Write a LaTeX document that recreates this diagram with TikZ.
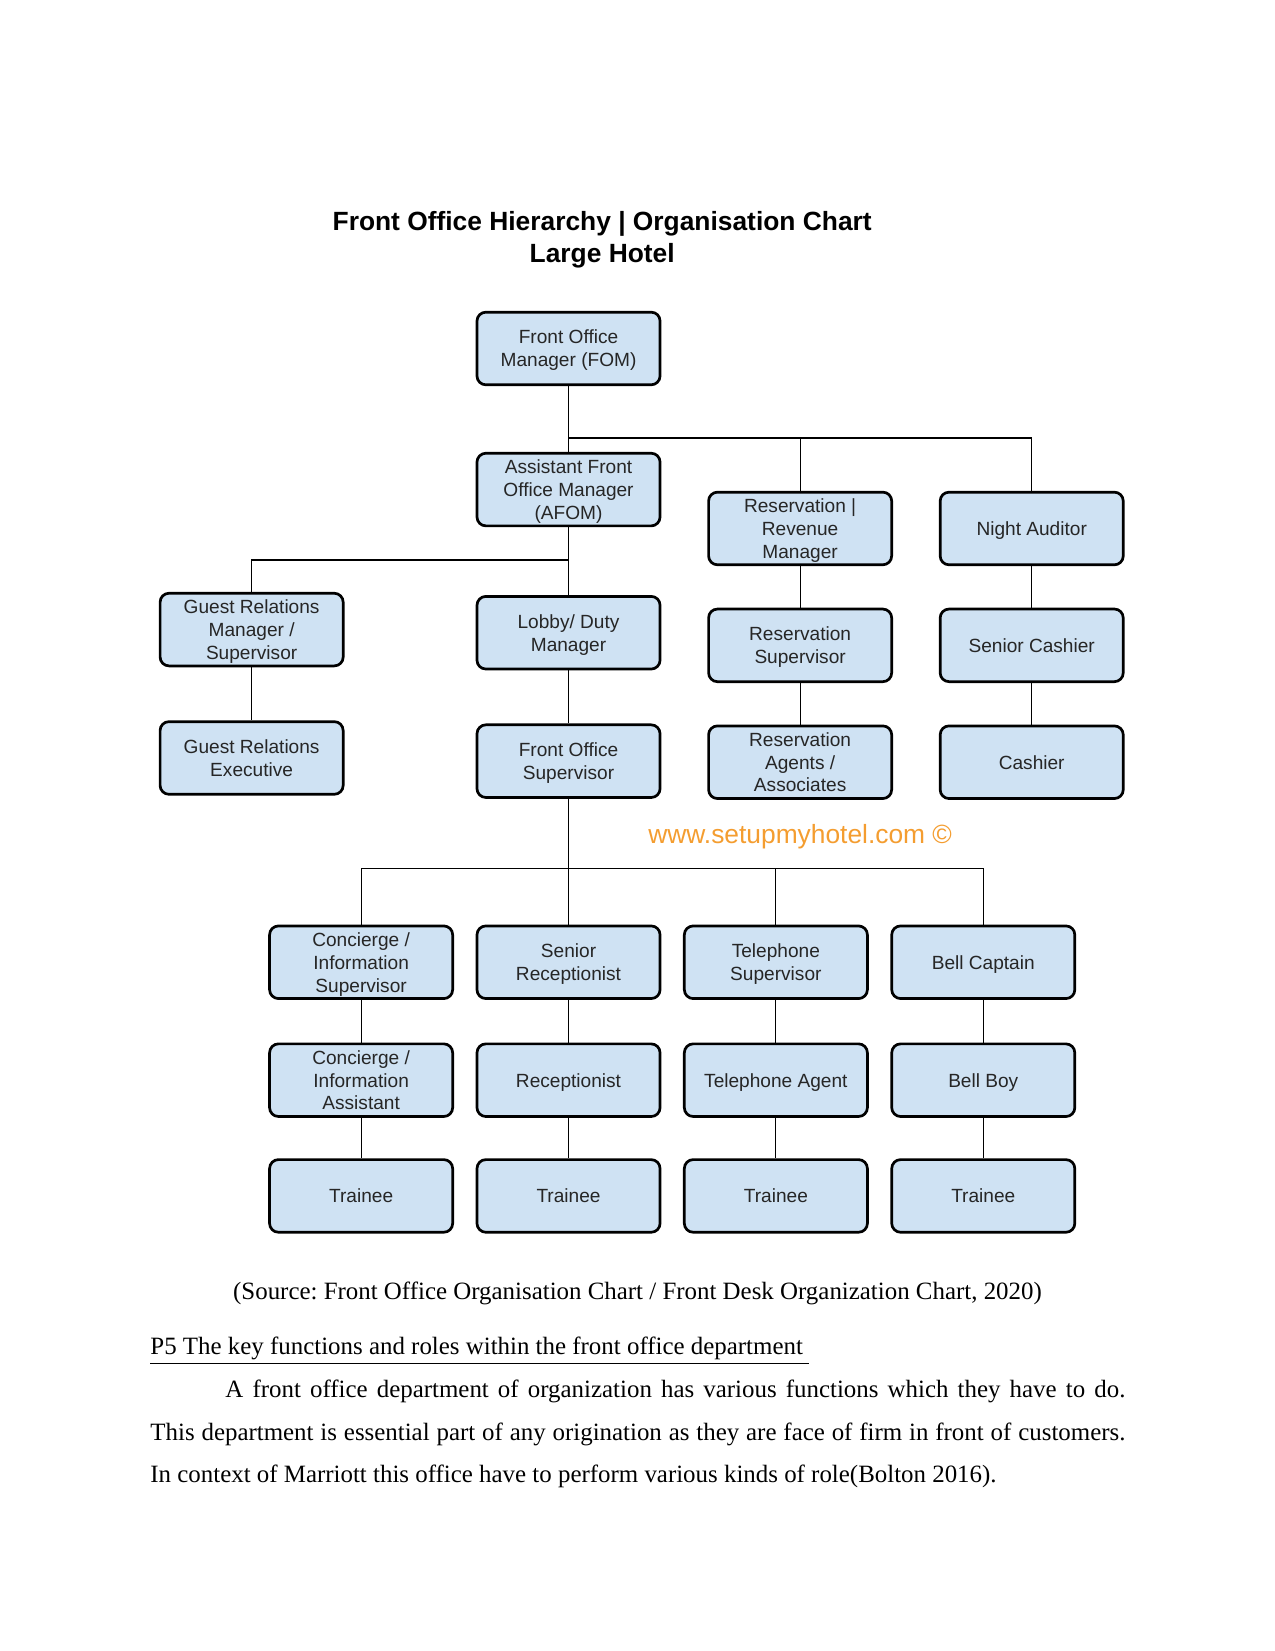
\documentclass[tikz,border=0pt]{standalone}
\usepackage{fontspec}
\setmainfont{Liberation Serif}
\newfontfamily\chartfont{Liberation Sans}
\frenchspacing
\definecolor{roleblue}{RGB}{207,226,243}
\definecolor{siteorange}{RGB}{244,157,48}
\tikzset{
  rolebox/.style={draw, rounded corners=1.5mm, line width=1.3pt, fill=roleblue, minimum width=3.1cm, minimum height=1.23cm, align=center, inner sep=1pt, text depth=0pt, text=black!85, font=\chartfont\fontsize{9.2}{11}\selectfont},
  link/.style={line width=0.6pt},
  charttitle/.style={align=center, font=\chartfont\bfseries\fontsize{12.7}{15.2}\selectfont},
  weblabel/.style={text=siteorange, font=\chartfont\fontsize{12.7}{15}\selectfont},
  bodytext/.style={inner sep=0pt, font=\fontsize{12}{20.5}\selectfont}
}

\begin{document}
\begin{tikzpicture}
  \useasboundingbox (0,0) rectangle (21.59,-27.957);
  \node[charttitle] (title) at (10.197,-4.06) {Front Office Hierarchy | Organisation Chart\\Large Hotel};

  % top of the chart
  \node[rolebox] (fom) at (9.627,-5.901) {Front Office\\Manager (FOM)};
  \node[rolebox] (afom) at (9.627,-8.290) {Assistant Front\\Office Manager\\(AFOM)};
  \node[rolebox] (resmgr) at (13.549,-8.949) {Reservation |\\Revenue\\Manager};
  \node[rolebox] (nightaud) at (17.470,-8.949) {Night Auditor};
  \coordinate (bus1) at (9.627,-7.416);
  \draw[link] (fom) -- (afom);
  \draw[link] (bus1) -| (resmgr.north);
  \draw[link] (bus1) -| (nightaud.north);

  % middle rows
  \node[rolebox] (grm) at (4.261,-10.661) {Guest Relations\\Manager /\\Supervisor};
  \node[rolebox] (lobby) at (9.627,-10.714) {Lobby/ Duty\\Manager};
  \node[rolebox] (ressup) at (13.549,-10.928) {Reservation\\Supervisor};
  \node[rolebox] (srcashier) at (17.470,-10.928) {Senior Cashier};
  \node[rolebox] (gre) at (4.261,-12.835) {Guest Relations\\Executive};
  \node[rolebox] (fos) at (9.627,-12.889) {Front Office\\Supervisor};
  \node[rolebox] (resagents) at (13.549,-12.907) {Reservation\\Agents /\\Associates};
  \node[rolebox] (cashier) at (17.470,-12.907) {Cashier};
  \coordinate (bus2) at (9.627,-9.484);
  \draw[link] (afom) -- (lobby);
  \draw[link] (bus2) -| (grm.north);
  \draw[link] (grm) -- (gre);
  \draw[link] (lobby) -- (fos);
  \draw[link] (resmgr) -- (ressup);
  \draw[link] (ressup) -- (resagents);
  \draw[link] (nightaud) -- (srcashier);
  \draw[link] (srcashier) -- (cashier);

  \node[weblabel] (site) at (13.549,-14.17) {www.setupmyhotel.com ©};

  % front desk teams
  \node[rolebox] (concsup) at (6.115,-16.294) {Concierge /\\Information\\Supervisor};
  \node[rolebox] (srrecep) at (9.627,-16.294) {Senior\\Receptionist};
  \node[rolebox] (telsup) at (13.138,-16.294) {Telephone\\Supervisor};
  \node[rolebox] (bellcap) at (16.650,-16.294) {Bell Captain};
  \node[rolebox] (concasst) at (6.115,-18.291) {Concierge /\\Information\\Assistant};
  \node[rolebox] (recep) at (9.627,-18.291) {Receptionist};
  \node[rolebox] (telagent) at (13.138,-18.291) {Telephone Agent};
  \node[rolebox] (bellboy) at (16.650,-18.291) {Bell Boy};
  \node[rolebox] (trainA) at (6.115,-20.251) {Trainee};
  \node[rolebox] (trainB) at (9.627,-20.251) {Trainee};
  \node[rolebox] (trainC) at (13.138,-20.251) {Trainee};
  \node[rolebox] (trainD) at (16.650,-20.251) {Trainee};
  \coordinate (bus3) at (9.627,-14.707);
  \draw[link] (fos) -- (srrecep);
  \draw[link] (bus3) -| (concsup.north);
  \draw[link] (bus3) -| (telsup.north);
  \draw[link] (bus3) -| (bellcap.north);
  \draw[link] (concsup) -- (concasst);
  \draw[link] (concasst) -- (trainA);
  \draw[link] (srrecep) -- (recep);
  \draw[link] (recep) -- (trainB);
  \draw[link] (telsup) -- (telagent);
  \draw[link] (telagent) -- (trainC);
  \draw[link] (bellcap) -- (bellboy);
  \draw[link] (bellboy) -- (trainD);

  % page text below the chart
  \node[bodytext, anchor=base] (source) at (10.795,-22.01) {(Source: Front Office Organisation Chart / Front Desk Organization Chart, 2020)};
  \node[bodytext, anchor=base west] (heading) at (2.54,-22.94) {\underline{P5 The key functions and roles within the front office department\ }};
  \node[bodytext, anchor=north west, text width=16.51cm, align=justify] (para) at (2.54,-23.36) {\hspace*{1.27cm}A front office department of organization has various functions which they have to do.\linebreak This department is essential part of any origination as they are face of firm in front of customers.\linebreak In context of Marriott this office have to perform various kinds of role(Bolton 2016).};
\end{tikzpicture}
\end{document}
